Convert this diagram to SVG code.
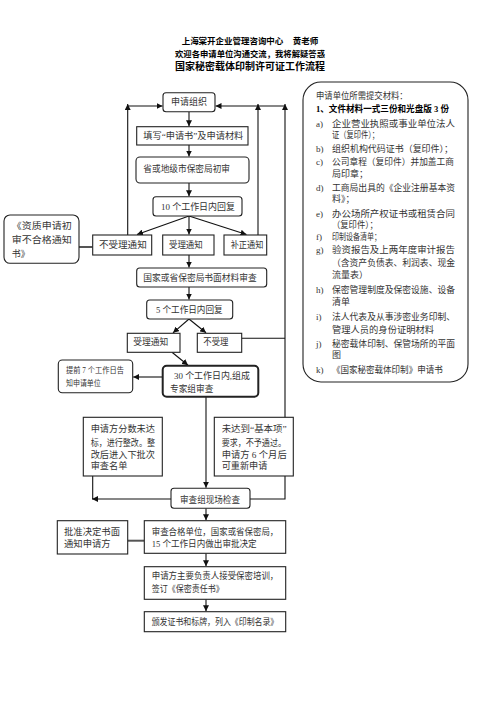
<svg xmlns="http://www.w3.org/2000/svg" width="496" height="702" viewBox="0 0 496 702">
<style>
.bg{fill:#fff}
.box{fill:#fff;stroke:#222;stroke-width:1.1}
.thick{stroke-width:2}
.t{font-family:"Liberation Serif","Noto Sans CJK SC",serif;font-size:9px;fill:#333}
.s{font-size:7.5px}
.h{font-family:"Liberation Serif","Noto Sans CJK SC",serif;font-weight:bold;fill:#000}
.b{font-weight:bold;fill:#000}
.c{fill:none;stroke:#111;stroke-width:1.1}
.g{fill:none;stroke:#555;stroke-width:2}
</style>
<defs>
<marker id="ah" markerWidth="6" markerHeight="6" refX="6" refY="3" orient="auto" markerUnits="userSpaceOnUse">
<path d="M0,0 L6,3 L0,6 z" fill="#111"/>
</marker>
</defs>
<rect class="bg" x="0" y="0" width="496" height="702"/>
<g id="title">
<text class="h" x="181.7" y="44" font-size="8.5" textLength="101.6" lengthAdjust="spacingAndGlyphs">上海棠开企业管理咨询中心</text>
<text class="h" x="292.7" y="44" font-size="8.5" textLength="25.6" lengthAdjust="spacingAndGlyphs">黄老师</text>
<text class="h" x="175" y="57" font-size="8.5" textLength="150" lengthAdjust="spacingAndGlyphs">欢迎各申请单位沟通交流，我将解疑答惑</text>
<text class="h" x="175" y="69.5" font-size="10" textLength="150" lengthAdjust="spacingAndGlyphs">国家秘密载体印制许可证工作流程</text>
</g>
<g id="connectors">
<path class="c" d="M189,112 V126.2" marker-end="url(#ah)"/>
<path class="c" d="M189,145 V156.5" marker-end="url(#ah)"/>
<path class="c" d="M189,183 V196.2" marker-end="url(#ah)"/>
<path class="c" d="M189,216 L137,234.5" marker-end="url(#ah)"/>
<path class="c" d="M189,216 V234.5" marker-end="url(#ah)"/>
<path class="c" d="M189,216 L246.5,234.5" marker-end="url(#ah)"/>
<path class="c" d="M189,255 V267.5" marker-end="url(#ah)"/>
<path class="c" d="M189,287 V299.5" marker-end="url(#ah)"/>
<path class="c" d="M189,319 L173,332.8" marker-end="url(#ah)"/>
<path class="c" d="M189,319 L206,332.8" marker-end="url(#ah)"/>
<path class="c" d="M172,352.3 L188,365.2" marker-end="url(#ah)"/>
<path class="c" d="M162.7,377 H133.2" marker-end="url(#ah)"/>
<path class="g" d="M92.7,247 H79"/>
<path class="c" d="M127.7,235 V104" marker-end="url(#ah)"/>
<path class="c" d="M127.7,106 H162.5" marker-end="url(#ah)"/>
<path class="c" d="M258,235 V104" marker-end="url(#ah)"/>
<path class="c" d="M250,499 H285 V104" marker-end="url(#ah)"/>
<path class="c" d="M285,106 H215.5" marker-end="url(#ah)"/>
<path class="c" d="M241.7,338.3 H285"/>
<path class="c" d="M206,397 V487.8" marker-end="url(#ah)"/>
<path class="c" d="M92.7,476 V499"/>
<path class="c" d="M171,499 H92" marker-end="url(#ah)"/>
<path class="c" d="M206,508.3 V520.2" marker-end="url(#ah)"/>
<path class="g" d="M127.7,540.7 H144.3"/>
<path class="c" d="M206,553.3 V566.2" marker-end="url(#ah)"/>
<path class="c" d="M206,599.3 V611.2" marker-end="url(#ah)"/>
</g>
<g id="n1"><rect class="box" x="163" y="92.7" width="52" height="19" rx="3"/><text class="t" x="189" y="105.2" text-anchor="middle">申请组织</text></g>
<g id="n2"><rect class="box" x="136.7" y="126.7" width="111.3" height="18.3"/><text class="t" x="143.3" y="139" textLength="100" lengthAdjust="spacingAndGlyphs">填写“申请书”及申请材料</text></g>
<g id="n3"><rect class="box" x="136" y="157" width="113" height="26" rx="4"/><text class="t" x="143.3" y="171.5" textLength="86.7" lengthAdjust="spacingAndGlyphs">省或地级市保密局初审</text></g>
<g id="n4"><rect class="box" x="153" y="196.7" width="89" height="19.3" rx="3"/><text class="t" x="161" y="209.9" textLength="74" lengthAdjust="spacingAndGlyphs">10 个工作日内回复</text></g>
<g id="n5"><rect class="box" x="92.7" y="235" width="59" height="20"/><text class="t" x="99" y="248.2" textLength="47.7" lengthAdjust="spacingAndGlyphs">不受理通知</text></g>
<g id="n6"><rect class="box" x="162.7" y="235" width="51.3" height="20"/><text class="t" x="169" y="248.2" textLength="33.7" lengthAdjust="spacingAndGlyphs">受理通知</text></g>
<g id="n7"><rect class="box" x="224" y="235" width="42.7" height="20"/><text class="t" x="230.7" y="248.2" textLength="32.6" lengthAdjust="spacingAndGlyphs">补正通知</text></g>
<g id="n8"><rect class="box" x="4" y="215" width="75" height="48.3" rx="6"/>
<text class="t" x="11.7" y="228.5" textLength="60" lengthAdjust="spacingAndGlyphs">《资质申请初</text>
<text class="t" x="11.7" y="243.2" textLength="60" lengthAdjust="spacingAndGlyphs">审不合格通知</text>
<text class="t" x="11.7" y="256.5">书》</text></g>
<g id="n9"><rect class="box" x="136.7" y="268" width="130" height="19" rx="3"/><text class="t" x="143.3" y="280.9" textLength="113.4" lengthAdjust="spacingAndGlyphs">国家或省保密局书面材料审查</text></g>
<g id="n10"><rect class="box" x="146.7" y="300" width="86" height="19" rx="3"/><text class="t" x="156" y="312.5" textLength="66.7" lengthAdjust="spacingAndGlyphs">5 个工作日内回复</text></g>
<g id="n11"><rect class="box" x="127.3" y="333.3" width="52.7" height="19"/><text class="t" x="133.3" y="344.9" textLength="35" lengthAdjust="spacingAndGlyphs">受理通知</text></g>
<g id="n12"><rect class="box" x="197.3" y="333.3" width="44.4" height="19"/><text class="t" x="203.3" y="344.9" textLength="25" lengthAdjust="spacingAndGlyphs">不受理</text></g>
<g id="n13"><rect class="box thick" x="162.7" y="365.7" width="95.6" height="31" rx="4"/>
<text class="t" x="174" y="379.2" font-size="9.5" textLength="76" lengthAdjust="spacingAndGlyphs">30 个工作日内,组成</text>
<text class="t" x="170" y="391.5" textLength="43.3" lengthAdjust="spacingAndGlyphs">专家组审查</text></g>
<g id="n14"><rect class="box" x="58.3" y="360" width="74.4" height="32.7" rx="4"/>
<text class="t s" x="66" y="372.6" textLength="58" lengthAdjust="spacingAndGlyphs">提前 7 个工作日告</text>
<text class="t s" x="66" y="385.9" textLength="34.7" lengthAdjust="spacingAndGlyphs">知申请单位</text></g>
<g id="n15"><rect class="box" x="83.3" y="417.3" width="79" height="58.7"/>
<text class="t" x="90.7" y="431.5" textLength="64.3" lengthAdjust="spacingAndGlyphs">申请方分数未达</text>
<text class="t" x="90.7" y="445.9" textLength="64.3" lengthAdjust="spacingAndGlyphs">标，进行整改。整</text>
<text class="t" x="90.7" y="457.5" textLength="64.3" lengthAdjust="spacingAndGlyphs">改后进入下批次</text>
<text class="t" x="90.7" y="469.2" textLength="36.7" lengthAdjust="spacingAndGlyphs">审查名单</text></g>
<g id="n16"><rect class="box" x="214.3" y="417.3" width="79" height="58.7"/>
<text class="t" x="221.7" y="431.5" textLength="65" lengthAdjust="spacingAndGlyphs">未达到“基本项”</text>
<text class="t" x="221.7" y="445.9" textLength="64.3" lengthAdjust="spacingAndGlyphs">要求，不予通过。</text>
<text class="t" x="221.7" y="457.5" textLength="65" lengthAdjust="spacingAndGlyphs">申请方 6 个月后</text>
<text class="t" x="221.7" y="469.2" textLength="45.7" lengthAdjust="spacingAndGlyphs">可重新申请</text></g>
<g id="n17"><rect class="box" x="171" y="488.3" width="79" height="20" rx="3"/><text class="t" x="180" y="502.5" textLength="60" lengthAdjust="spacingAndGlyphs">审查组现场检查</text></g>
<g id="n18"><rect class="box" x="57.3" y="520.7" width="70.4" height="33.3"/>
<text class="t" x="64" y="534.9" textLength="56" lengthAdjust="spacingAndGlyphs">批准决定书面</text>
<text class="t" x="64" y="547.2" textLength="46.7" lengthAdjust="spacingAndGlyphs">通知申请方</text></g>
<g id="n19"><rect class="box" x="144.3" y="520.7" width="141.4" height="32.6"/>
<text class="t" x="151.7" y="534.9" textLength="126.6" lengthAdjust="spacingAndGlyphs">审查合格单位，国家或省保密局，</text>
<text class="t" x="151.7" y="547.2" textLength="105" lengthAdjust="spacingAndGlyphs">15 个工作日内做出审批决定</text></g>
<g id="n20"><rect class="box" x="144.3" y="566.7" width="141.4" height="32.6"/>
<text class="t" x="151.7" y="578.9" textLength="126.6" lengthAdjust="spacingAndGlyphs">申请方主要负责人接受保密培训，</text>
<text class="t" x="151.7" y="591.5" textLength="72" lengthAdjust="spacingAndGlyphs">签订《保密责任书》</text></g>
<g id="n21"><rect class="box" x="144.3" y="611.7" width="141.4" height="20"/>
<text class="t" x="151.7" y="624.9" textLength="126.6" lengthAdjust="spacingAndGlyphs">颁发证书和标牌，列入《印制名录》</text></g>
<g id="materials"><rect class="box" x="303" y="82" width="165" height="300" rx="18" stroke-width="1.5"/>
<text class="t" x="316" y="98.9" textLength="91.7" lengthAdjust="spacingAndGlyphs">申请单位所需提交材料：</text>
<text class="t b" x="316" y="112.3" textLength="133" lengthAdjust="spacingAndGlyphs">1、文件材料一式三份和光盘版 3 份</text>
<text class="t" x="316" y="126.6">a)</text><text class="t" x="332" y="126.6" textLength="123" lengthAdjust="spacingAndGlyphs">企业营业执照或事业单位法人</text>
<text class="t" x="332" y="137.6" textLength="47" lengthAdjust="spacingAndGlyphs">证（复印件）；</text>
<text class="t" x="316" y="151.6">b)</text><text class="t" x="332" y="151.6" textLength="121" lengthAdjust="spacingAndGlyphs">组织机构代码证书（复印件）；</text>
<text class="t" x="316" y="165">c)</text><text class="t" x="332" y="165" textLength="122" lengthAdjust="spacingAndGlyphs">公司章程（复印件）并加盖工商</text>
<text class="t" x="332" y="176.6">局印章；</text>
<text class="t" x="316" y="190.6">d)</text><text class="t" x="332" y="190.6" textLength="123" lengthAdjust="spacingAndGlyphs">工商局出具的《企业注册基本资</text>
<text class="t" x="332" y="202.3">料》；</text>
<text class="t" x="316" y="216.6">e)</text><text class="t" x="332" y="216.6" textLength="123" lengthAdjust="spacingAndGlyphs">办公场所产权证书或租赁合同</text>
<text class="t" x="332" y="227.6" textLength="45.7" lengthAdjust="spacingAndGlyphs">（复印件）；</text>
<text class="t" x="316" y="240">f)</text><text class="t" x="332" y="240" textLength="49" lengthAdjust="spacingAndGlyphs">印制设备清单；</text>
<text class="t" x="316" y="253.3">g)</text><text class="t" x="332" y="253.3" textLength="123" lengthAdjust="spacingAndGlyphs">验资报告及上两年度审计报告</text>
<text class="t" x="332" y="266" textLength="123" lengthAdjust="spacingAndGlyphs">（含资产负债表、利润表、现金</text>
<text class="t" x="332" y="278.3">流量表）</text>
<text class="t" x="316" y="292.6">h)</text><text class="t" x="332" y="292.6" textLength="123" lengthAdjust="spacingAndGlyphs">保密管理制度及保密设施、设备</text>
<text class="t" x="332" y="305">清单</text>
<text class="t" x="316" y="320">i)</text><text class="t" x="332" y="320" textLength="123" lengthAdjust="spacingAndGlyphs">法人代表及从事涉密业务印制、</text>
<text class="t" x="332" y="332.6" textLength="102" lengthAdjust="spacingAndGlyphs">管理人员的身份证明材料</text>
<text class="t" x="316" y="346.6">j)</text><text class="t" x="332" y="346.6" textLength="123" lengthAdjust="spacingAndGlyphs">秘密载体印制、保管场所的平面</text>
<text class="t" x="332" y="358.3">图</text>
<text class="t" x="316" y="372.6">k)</text><text class="t" x="332" y="372.6" textLength="110.7" lengthAdjust="spacingAndGlyphs">《国家秘密载体印制》申请书</text>
</g>
</svg>
